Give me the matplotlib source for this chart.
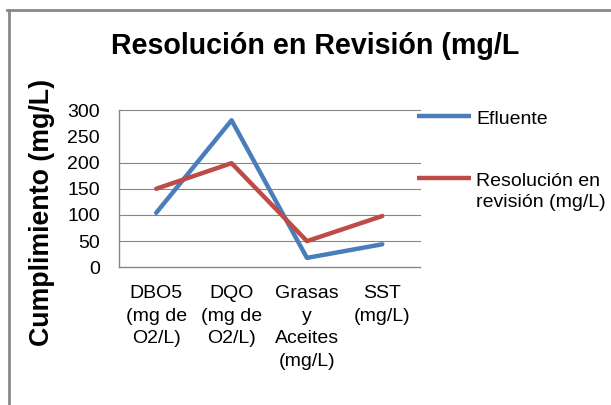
import matplotlib
matplotlib.use("Agg")
import matplotlib.pyplot as plt
from matplotlib.lines import Line2D

plt.rcParams['font.family'] = ['Liberation Sans', 'DejaVu Sans']

categories = ["DBO5\n(mg de\nO2/L)", "DQO\n(mg de\nO2/L)", "Grasas\ny\nAceites\n(mg/L)", "SST\n(mg/L)"]
efluente = [104, 281, 18, 44]
resolucion = [150, 199, 50, 98]
series_names = ["Efluente", "Resolución en\nrevisión (mg/L)"]
y_ticks = [0, 50, 100, 150, 200, 250, 300]
grid_levels = [50, 100, 150, 200, 300]

title = "Resolución en Revisión (mg/L"
ylabel = "Cumplimiento (mg/L)"

W, H = 611, 405
fig = plt.figure(figsize=(W / 100, H / 100), dpi=100)

def fx(px):
    return px / W

def fy(py):
    return 1 - py / H

ax = fig.add_axes([fx(118.5), fy(267.3), fx(420) - fx(118.5), fy(110.3) - fy(267.3)])

grid_color = "#868686"
for g in grid_levels:
    ax.axhline(g, color=grid_color, lw=0.8, clip_on=False, zorder=1)

x = list(range(len(categories)))
blue = "#4A7EBB"
red = "#BE4B48"
ax.plot(x, efluente, color=blue, lw=3.2, solid_capstyle='round', zorder=3)
ax.plot(x, resolucion, color=red, lw=3.2, solid_capstyle='round', zorder=3)

ax.set_xlim(-0.5, len(categories) - 0.5)
ax.set_ylim(0, 300)
ax.set_yticks(y_ticks)
ax.set_yticklabels([str(v) for v in y_ticks])
ax.set_xticks(x)
ax.set_xticklabels(categories, linespacing=1.44)

for s in ["top", "right"]:
    ax.spines[s].set_visible(False)
for s in ["left", "bottom"]:
    ax.spines[s].set_color(grid_color)
    ax.spines[s].set_linewidth(1.0)

ax.tick_params(axis='y', length=0, pad=13.3, labelsize=14, colors='black')
ax.tick_params(axis='x', length=0, pad=12.7, labelsize=14, colors='black')

# Title and y label
fig.text(fx(315), fy(54), title, ha='center', va='baseline', fontsize=20.6, fontweight='bold')
fig.text(fx(42.5), fy(212.5), ylabel, rotation=90, ha='center', va='center', fontsize=19.3, fontweight='bold')

# Legend (manual)
leg_y = [116, 178]
leg_colors = [blue, red]
pitch = 20.5
for yy, col, name in zip(leg_y, leg_colors, series_names):
    fig.add_artist(Line2D([fx(417), fx(471)], [fy(yy), fy(yy)], color=col, lw=3.2, solid_capstyle='butt'))
    for i, line in enumerate(name.split("\n")):
        fig.text(fx(476), fy(yy + 8.3 + i * pitch), line, ha='left', va='baseline', fontsize=14)

# Outer frame (partial, clipped at right and bottom)
fc = "#888888"
fig.add_artist(Line2D([fx(8.5), fx(8.5)], [fy(10), 0], color=fc, lw=2.0))
fig.add_artist(Line2D([fx(7.5), 1], [fy(10), fy(10)], color=fc, lw=2.0))

fig.savefig("out.png", dpi=100)
